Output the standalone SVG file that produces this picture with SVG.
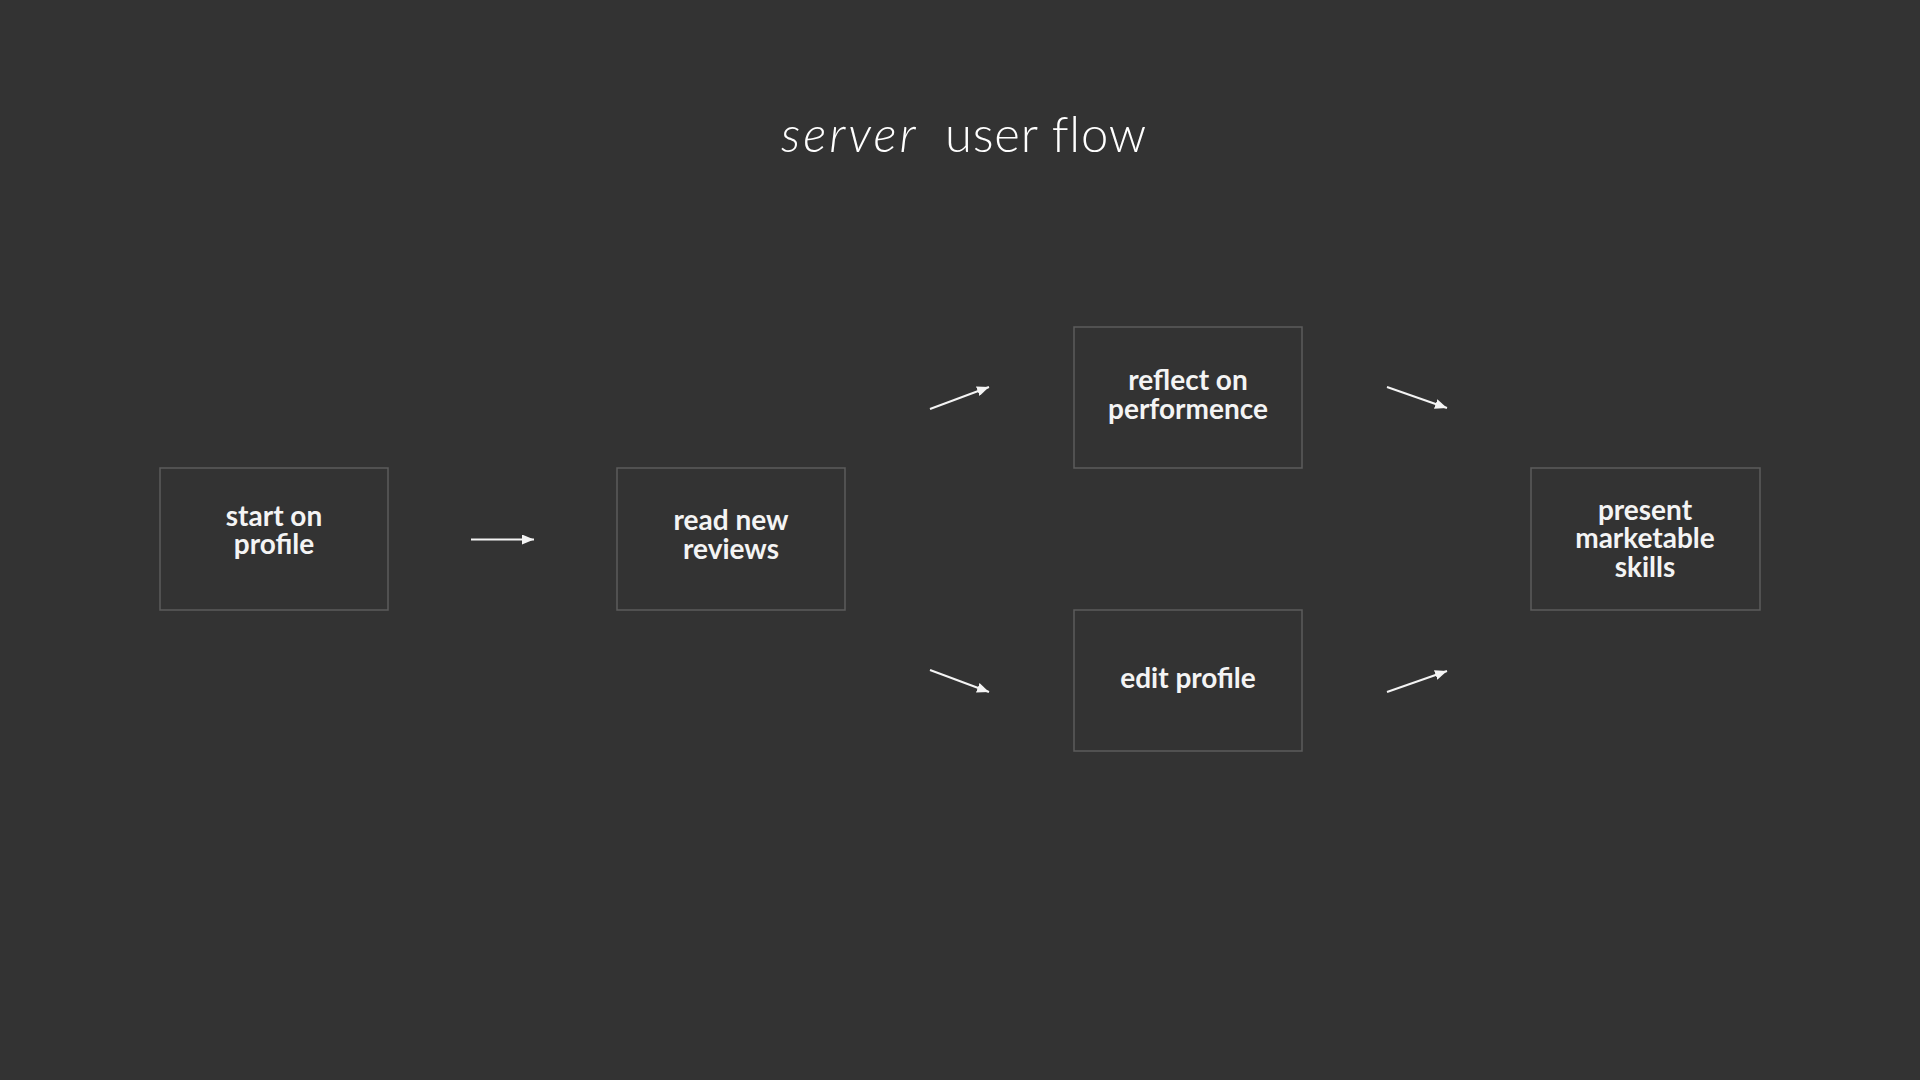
<svg xmlns="http://www.w3.org/2000/svg" width="1920" height="1080" viewBox="0 0 1920 1080">
<defs>
<style>
.box{fill:none;stroke:#5c5c5c;stroke-width:1.5}
.lbl{font-family:Lato,"Open Sans","Liberation Sans",sans-serif;font-weight:700;font-size:28px;fill:#f4f4f4;text-anchor:middle}
.ttl{font-family:Lato,"Open Sans","Liberation Sans",sans-serif;font-weight:300;font-size:49px;fill:#ffffff}
.conn{stroke:#f4f4f4;stroke-width:2;fill:none}
</style>
<marker id="ah" viewBox="0 0 12 10" refX="12" refY="5" markerWidth="12" markerHeight="10" markerUnits="userSpaceOnUse" orient="auto">
<path d="M0,0 L12,5 L0,10 Z" fill="#f4f4f4"/>
</marker>
</defs>
<rect width="1920" height="1080" fill="#333333"/>
<g id="title">
<text class="ttl" y="152"><tspan x="781" font-style="italic" letter-spacing="3">server</tspan><tspan x="945" letter-spacing="0.8">user flow</tspan></text>
</g>
<g id="node-start">
<rect class="box" x="160" y="468" width="228" height="142"/>
<text class="lbl"><tspan x="274" y="526">start on</tspan><tspan x="274" y="554">profile</tspan></text>
</g>
<g id="node-read">
<rect class="box" x="617" y="468" width="228" height="142"/>
<text class="lbl"><tspan x="731" y="530">read new</tspan><tspan x="731" y="559">reviews</tspan></text>
</g>
<g id="node-reflect">
<rect class="box" x="1074" y="327" width="228" height="141"/>
<text class="lbl"><tspan x="1188" y="390">reflect on</tspan><tspan x="1188" y="419">performence</tspan></text>
</g>
<g id="node-edit">
<rect class="box" x="1074" y="610" width="228" height="141"/>
<text class="lbl" x="1188" y="688">edit profile</text>
</g>
<g id="node-present">
<rect class="box" x="1531" y="468" width="229" height="142"/>
<text class="lbl"><tspan x="1645" y="520">present</tspan><tspan x="1645" y="548">marketable</tspan><tspan x="1645" y="577">skills</tspan></text>
</g>
<g id="connectors">
<line class="conn" x1="471" y1="539.5" x2="534" y2="539.5" marker-end="url(#ah)"/>
<line class="conn" x1="930" y1="409" x2="989" y2="387" marker-end="url(#ah)"/>
<line class="conn" x1="930" y1="670" x2="989" y2="692" marker-end="url(#ah)"/>
<line class="conn" x1="1387" y1="387" x2="1447" y2="408" marker-end="url(#ah)"/>
<line class="conn" x1="1387" y1="692" x2="1447" y2="671" marker-end="url(#ah)"/>
</g>
</svg>
